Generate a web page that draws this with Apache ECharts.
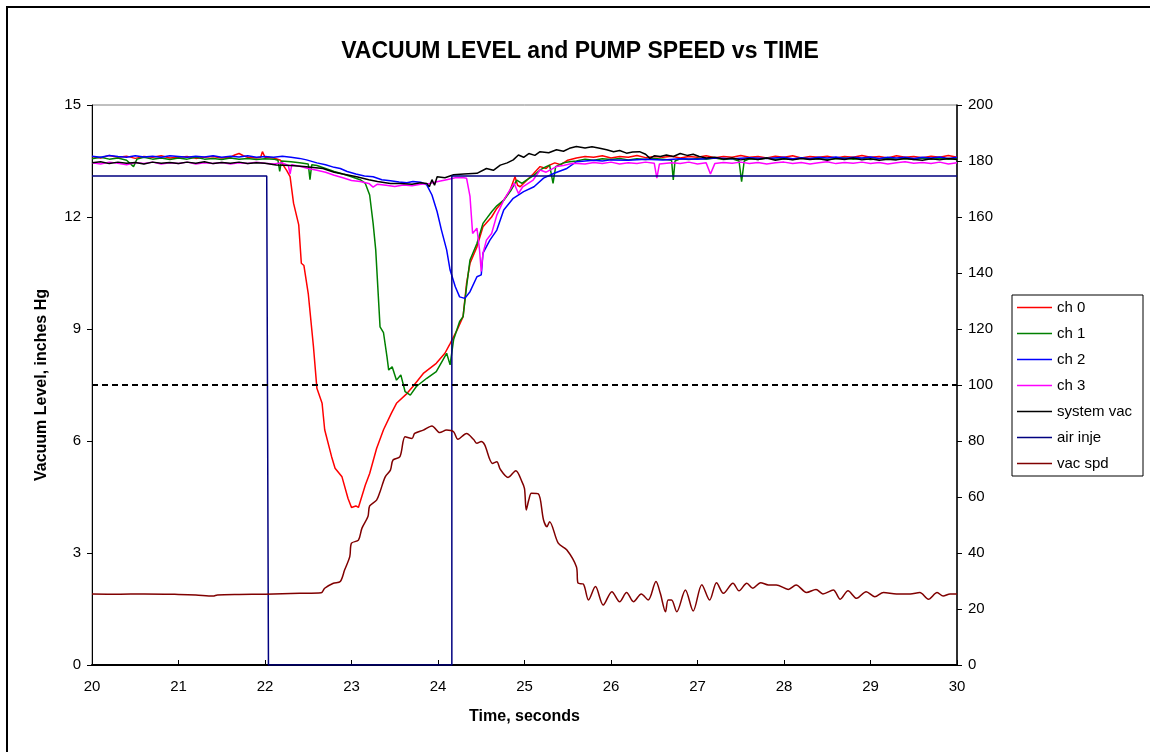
<!DOCTYPE html>
<html>
<head>
<meta charset="utf-8">
<title>Vacuum level and pump speed vs time</title>
<script src="https://cdn.jsdelivr.net/npm/echarts@6/dist/echarts.min.js"></script>
<style>
  html, body { margin: 0; padding: 0; background: #fff; }
  #chart { width: 1150px; height: 752px; }
</style>
</head>
<body>
<div id="chart"></div>
<script>
// [time s, vacuum inHg]
const ch0 = [
  [20.0, 13.62], [20.1, 13.58], [20.2, 13.65], [20.3, 13.6], [20.4, 13.63], [20.5, 13.57], [20.6, 13.62], [20.7, 13.6],
  [20.8, 13.64], [20.9, 13.58], [21.0, 13.6], [21.1, 13.62], [21.2, 13.57], [21.3, 13.6], [21.4, 13.62], [21.5, 13.58],
  [21.6, 13.6], [21.65, 13.66], [21.7, 13.7], [21.75, 13.64], [21.8, 13.6], [21.9, 13.58], [21.95, 13.6], [21.97, 13.75],
  [22.0, 13.6], [22.1, 13.58], [22.18, 13.52], [22.21, 13.39], [22.25, 13.25], [22.29, 13.08], [22.33, 12.37], [22.39, 11.79],
  [22.42, 10.76], [22.45, 10.7], [22.5, 9.95], [22.56, 8.53], [22.6, 7.41], [22.66, 7.01], [22.69, 6.3], [22.77, 5.58],
  [22.81, 5.27], [22.89, 5.04], [22.96, 4.46], [23.0, 4.22], [23.02, 4.19], [23.05, 4.26], [23.08, 4.22], [23.16, 4.82],
  [23.21, 5.13], [23.29, 5.8], [23.37, 6.3], [23.46, 6.74], [23.52, 7.01], [23.64, 7.27], [23.71, 7.46], [23.83, 7.81],
  [23.98, 8.08], [24.08, 8.35], [24.14, 8.61], [24.22, 8.97], [24.29, 9.33], [24.33, 10.22], [24.37, 10.76], [24.45, 11.2],
  [24.52, 11.74], [24.62, 12.0], [24.68, 12.23], [24.76, 12.45], [24.83, 12.7], [24.89, 13.08], [24.92, 12.85], [24.95, 12.81],
  [25.03, 12.99], [25.1, 13.15], [25.18, 13.35], [25.25, 13.3], [25.29, 13.39], [25.35, 13.45], [25.42, 13.4], [25.5, 13.52],
  [25.6, 13.58], [25.7, 13.62], [25.8, 13.6], [25.9, 13.64], [26.0, 13.58], [26.1, 13.62], [26.2, 13.6], [26.3, 13.65],
  [26.4, 13.59], [26.5, 13.62], [26.6, 13.6], [26.7, 13.63], [26.8, 13.58], [26.9, 13.62], [27.0, 13.6], [27.1, 13.64],
  [27.2, 13.59], [27.3, 13.62], [27.4, 13.6], [27.5, 13.65], [27.6, 13.6], [27.7, 13.62], [27.8, 13.58], [27.9, 13.63],
  [28.0, 13.6], [28.1, 13.64], [28.2, 13.58], [28.3, 13.62], [28.4, 13.6], [28.5, 13.63], [28.6, 13.58], [28.7, 13.62],
  [28.8, 13.6], [28.9, 13.65], [29.0, 13.6], [29.1, 13.62], [29.2, 13.58], [29.3, 13.64], [29.4, 13.6], [29.5, 13.62],
  [29.6, 13.59], [29.7, 13.63], [29.8, 13.6], [29.9, 13.65], [30.0, 13.6]
]
const ch1 = [
  [20.0, 13.56], [20.1, 13.6], [20.2, 13.55], [20.3, 13.58], [20.4, 13.52], [20.48, 13.35], [20.52, 13.55], [20.6, 13.6],
  [20.7, 13.55], [20.8, 13.58], [20.9, 13.54], [21.0, 13.58], [21.1, 13.55], [21.2, 13.6], [21.3, 13.55], [21.4, 13.57],
  [21.5, 13.54], [21.6, 13.58], [21.7, 13.55], [21.8, 13.57], [21.9, 13.54], [22.0, 13.56], [22.1, 13.55], [22.15, 13.52],
  [22.17, 13.22], [22.19, 13.5], [22.3, 13.48], [22.4, 13.45], [22.5, 13.42], [22.52, 13.0], [22.54, 13.4], [22.6, 13.38],
  [22.7, 13.3], [22.8, 13.22], [22.9, 13.15], [23.0, 13.08], [23.1, 13.0], [23.16, 12.9], [23.21, 12.59], [23.25, 11.83],
  [23.28, 11.12], [23.3, 11.16], [23.33, 9.06], [23.37, 8.9], [23.41, 8.26], [23.43, 7.9], [23.47, 7.99], [23.52, 7.63],
  [23.57, 7.77], [23.62, 7.32], [23.68, 7.23], [23.75, 7.46], [23.87, 7.68], [23.98, 7.86], [24.1, 8.35], [24.12, 8.4],
  [24.14, 8.04], [24.18, 8.71], [24.25, 9.2], [24.29, 9.33], [24.33, 10.13], [24.37, 10.85], [24.45, 11.29], [24.52, 11.83],
  [24.62, 12.14], [24.68, 12.3], [24.76, 12.45], [24.84, 12.7], [24.91, 12.99], [24.97, 12.9], [25.03, 13.0], [25.1, 13.1],
  [25.18, 13.26], [25.25, 13.35], [25.29, 13.39], [25.33, 12.9], [25.36, 13.35], [25.45, 13.45], [25.52, 13.48], [25.6, 13.5],
  [25.7, 13.55], [25.8, 13.52], [25.9, 13.56], [26.0, 13.54], [26.1, 13.57], [26.2, 13.53], [26.3, 13.56], [26.4, 13.54],
  [26.5, 13.57], [26.6, 13.55], [26.7, 13.52], [26.72, 12.99], [26.74, 13.5], [26.8, 13.56], [26.9, 13.54], [27.0, 13.57],
  [27.1, 13.55], [27.2, 13.58], [27.3, 13.54], [27.4, 13.56], [27.48, 13.5], [27.51, 12.95], [27.54, 13.5], [27.6, 13.56],
  [27.7, 13.54], [27.8, 13.58], [27.9, 13.55], [28.0, 13.57], [28.1, 13.54], [28.2, 13.58], [28.3, 13.55], [28.4, 13.57],
  [28.5, 13.54], [28.6, 13.56], [28.7, 13.58], [28.8, 13.55], [28.9, 13.57], [29.0, 13.54], [29.1, 13.56], [29.2, 13.58],
  [29.3, 13.55], [29.4, 13.57], [29.5, 13.54], [29.6, 13.58], [29.7, 13.55], [29.8, 13.57], [29.9, 13.55], [30.0, 13.56]
]
const ch2 = [
  [20.0, 13.63], [20.1, 13.6], [20.2, 13.65], [20.3, 13.62], [20.4, 13.6], [20.5, 13.64], [20.6, 13.61], [20.7, 13.63],
  [20.8, 13.6], [20.9, 13.64], [21.0, 13.62], [21.1, 13.6], [21.2, 13.63], [21.3, 13.61], [21.4, 13.64], [21.5, 13.6],
  [21.6, 13.63], [21.7, 13.61], [21.8, 13.64], [21.9, 13.6], [22.0, 13.62], [22.1, 13.6], [22.2, 13.63], [22.3, 13.6],
  [22.4, 13.57], [22.48, 13.53], [22.6, 13.45], [22.7, 13.4], [22.8, 13.33], [22.87, 13.3], [22.95, 13.22], [23.05, 13.15],
  [23.15, 13.1], [23.25, 13.08], [23.35, 13.0], [23.45, 12.97], [23.55, 12.94], [23.64, 12.92], [23.71, 12.95], [23.8, 12.93],
  [23.87, 12.86], [23.93, 12.59], [23.99, 12.14], [24.04, 11.65], [24.1, 11.12], [24.14, 10.58], [24.2, 10.13], [24.25, 9.86],
  [24.31, 9.82], [24.37, 10.0], [24.45, 10.4], [24.5, 10.45], [24.52, 11.03], [24.6, 11.38], [24.68, 11.65], [24.76, 12.19],
  [24.87, 12.5], [24.99, 12.68], [25.11, 12.81], [25.22, 13.04], [25.35, 13.18], [25.49, 13.3], [25.6, 13.48], [25.7, 13.5],
  [25.8, 13.52], [25.9, 13.5], [26.0, 13.53], [26.2, 13.52], [26.4, 13.55], [26.6, 13.53], [26.8, 13.56], [27.0, 13.55],
  [27.2, 13.58], [27.4, 13.56], [27.6, 13.59], [27.8, 13.57], [28.0, 13.6], [28.1, 13.56], [28.2, 13.59], [28.3, 13.57],
  [28.4, 13.6], [28.5, 13.58], [28.6, 13.61], [28.7, 13.57], [28.8, 13.6], [28.9, 13.58], [29.0, 13.61], [29.1, 13.57],
  [29.2, 13.6], [29.3, 13.58], [29.4, 13.6], [29.5, 13.57], [29.6, 13.6], [29.7, 13.58], [29.8, 13.61], [29.9, 13.57],
  [30.0, 13.6]
]
const ch3 = [
  [20.0, 13.45], [20.1, 13.42], [20.2, 13.47], [20.3, 13.44], [20.4, 13.4], [20.5, 13.46], [20.6, 13.43], [20.7, 13.47],
  [20.8, 13.42], [20.9, 13.45], [21.0, 13.43], [21.1, 13.47], [21.2, 13.42], [21.3, 13.45], [21.4, 13.43], [21.5, 13.46],
  [21.6, 13.42], [21.7, 13.45], [21.8, 13.43], [21.9, 13.47], [22.0, 13.44], [22.1, 13.42], [22.2, 13.45], [22.27, 13.38],
  [22.29, 13.15], [22.31, 13.4], [22.4, 13.36], [22.5, 13.3], [22.6, 13.25], [22.7, 13.2], [22.8, 13.12], [22.9, 13.05],
  [23.0, 12.98], [23.1, 12.95], [23.2, 12.9], [23.25, 12.8], [23.3, 12.88], [23.4, 12.85], [23.5, 12.82], [23.6, 12.86],
  [23.7, 12.84], [23.8, 12.88], [23.9, 12.9], [24.0, 12.95], [24.1, 13.0], [24.2, 13.05], [24.3, 13.05], [24.33, 13.04],
  [24.37, 12.55], [24.4, 11.56], [24.42, 11.6], [24.45, 11.7], [24.48, 11.12], [24.5, 10.54], [24.52, 11.03], [24.56, 11.38],
  [24.62, 11.56], [24.68, 12.05], [24.76, 12.45], [24.83, 12.72], [24.88, 12.9], [24.93, 12.63], [24.98, 12.81], [25.1, 12.99],
  [25.18, 13.26], [25.25, 13.2], [25.37, 13.35], [25.45, 13.38], [25.56, 13.44], [25.7, 13.42], [25.8, 13.46], [25.9, 13.43],
  [26.0, 13.47], [26.1, 13.42], [26.2, 13.45], [26.3, 13.43], [26.4, 13.47], [26.5, 13.44], [26.53, 13.04], [26.56, 13.42],
  [26.7, 13.45], [26.8, 13.43], [26.9, 13.47], [27.0, 13.42], [27.1, 13.45], [27.15, 13.15], [27.2, 13.43], [27.3, 13.46],
  [27.4, 13.44], [27.5, 13.47], [27.6, 13.43], [27.7, 13.46], [27.8, 13.42], [27.9, 13.45], [28.0, 13.47], [28.1, 13.43],
  [28.2, 13.46], [28.3, 13.42], [28.4, 13.45], [28.5, 13.48], [28.6, 13.43], [28.7, 13.46], [28.8, 13.44], [28.9, 13.47],
  [29.0, 13.43], [29.1, 13.46], [29.2, 13.42], [29.3, 13.45], [29.4, 13.48], [29.5, 13.44], [29.6, 13.46], [29.7, 13.43],
  [29.8, 13.47], [29.9, 13.42], [30.0, 13.45]
]
const systemVac = [
  [20.0, 13.45], [20.1, 13.48], [20.2, 13.43], [20.3, 13.47], [20.4, 13.44], [20.5, 13.46], [20.6, 13.42], [20.7, 13.47],
  [20.8, 13.44], [20.9, 13.46], [21.0, 13.43], [21.1, 13.47], [21.2, 13.44], [21.3, 13.48], [21.4, 13.43], [21.5, 13.46],
  [21.6, 13.44], [21.7, 13.47], [21.8, 13.43], [21.9, 13.45], [22.0, 13.44], [22.13, 13.39], [22.3, 13.38], [22.45, 13.35],
  [22.67, 13.3], [22.8, 13.2], [22.9, 13.15], [23.06, 13.08], [23.2, 13.0], [23.3, 12.95], [23.45, 12.9], [23.56, 12.9],
  [23.7, 12.88], [23.8, 12.92], [23.87, 12.9], [23.9, 12.81], [23.93, 13.0], [23.96, 12.85], [23.99, 13.08], [24.08, 13.05],
  [24.18, 13.13], [24.3, 13.15], [24.45, 13.17], [24.56, 13.3], [24.64, 13.25], [24.72, 13.39], [24.8, 13.45], [24.87, 13.53],
  [24.93, 13.66], [24.99, 13.6], [25.05, 13.7], [25.12, 13.65], [25.18, 13.75], [25.28, 13.72], [25.37, 13.8], [25.45, 13.76],
  [25.52, 13.84], [25.6, 13.89], [25.7, 13.85], [25.78, 13.88], [25.87, 13.84], [25.95, 13.8], [26.03, 13.75], [26.1, 13.78],
  [26.18, 13.71], [26.25, 13.74], [26.33, 13.75], [26.4, 13.68], [26.45, 13.57], [26.5, 13.64], [26.57, 13.62], [26.64, 13.66],
  [26.72, 13.62], [26.8, 13.7], [26.88, 13.65], [26.95, 13.68], [27.02, 13.62], [27.1, 13.58], [27.2, 13.6], [27.3, 13.55],
  [27.4, 13.58], [27.5, 13.53], [27.6, 13.57], [27.7, 13.54], [27.8, 13.58], [27.9, 13.52], [28.0, 13.56], [28.1, 13.53],
  [28.2, 13.57], [28.3, 13.54], [28.4, 13.56], [28.5, 13.52], [28.6, 13.57], [28.7, 13.54], [28.8, 13.58], [28.9, 13.53],
  [29.0, 13.56], [29.1, 13.52], [29.2, 13.55], [29.3, 13.53], [29.4, 13.57], [29.5, 13.54], [29.6, 13.52], [29.7, 13.56],
  [29.8, 13.53], [29.9, 13.57], [30.0, 13.54]
]
const airInje = [
  [20.0, 13.1], [22.02, 13.1], [22.04, 0], [24.16, 0], [24.16, 13.1], [30.0, 13.1]
]
// [time s, pump speed] on the right axis
const vacSpd = [
  [20.0, 25.4], [20.3, 25.3], [20.6, 25.4], [21.0, 25.2], [21.2, 25.0], [21.4, 24.6], [21.45, 25.0], [21.7, 25.2],
  [22.0, 25.3], [22.4, 25.6], [22.65, 25.8], [22.69, 27.4], [22.79, 29.2], [22.87, 29.8], [22.92, 33.9], [22.98, 38.7],
  [23.0, 43.5], [23.08, 44.6], [23.12, 48.8], [23.19, 53], [23.21, 56.8], [23.29, 58.9], [23.33, 61.9], [23.39, 67.2],
  [23.45, 69.6], [23.48, 73.2], [23.56, 74.4], [23.62, 81.5], [23.7, 80.9], [23.73, 82.7], [23.83, 83.9], [23.93, 85.4],
  [24.02, 83], [24.1, 83.9], [24.18, 83.3], [24.23, 80.6], [24.33, 82.7], [24.41, 80.6], [24.45, 79.2], [24.5, 79.8],
  [24.54, 78.6], [24.63, 72], [24.68, 72.6], [24.72, 69.9], [24.81, 67], [24.9, 69.4], [24.97, 65.5], [25.0, 63],
  [25.02, 55.4], [25.05, 59], [25.08, 61.3], [25.16, 61.1], [25.22, 51.8], [25.26, 49.4], [25.29, 51.2], [25.39, 43.5],
  [25.49, 41.1], [25.6, 35.1], [25.62, 29.2], [25.68, 28.9], [25.74, 23.2], [25.82, 28], [25.91, 21.4], [26.01, 26.2],
  [26.1, 22.6], [26.18, 25.9], [26.26, 22.6], [26.35, 25.4], [26.43, 23.2], [26.52, 29.8], [26.57, 25.6], [26.63, 19],
  [26.66, 23.2], [26.7, 23.2], [26.76, 19], [26.86, 26.8], [26.95, 19.3], [27.05, 28.7], [27.14, 23.2], [27.22, 29.4],
  [27.3, 25.6], [27.41, 29.2], [27.48, 26.5], [27.57, 29.2], [27.64, 27.4], [27.73, 29.4], [27.82, 28.6], [27.91, 28.6],
  [28.05, 27], [28.14, 28.6], [28.26, 25.9], [28.37, 27], [28.45, 25.4], [28.57, 26.8], [28.65, 23.5], [28.74, 26.5],
  [28.84, 23.8], [28.95, 26.2], [29.05, 24.4], [29.15, 25.9], [29.3, 25.4], [29.46, 25.4], [29.57, 25.9], [29.67, 23.5],
  [29.77, 25.9], [29.84, 24.6], [29.92, 25.4], [30.0, 25.4]
]
const limitLine = [[20, 100], [30, 100]]

const seriesNames = ['ch 0', 'ch 1', 'ch 2', 'ch 3', 'system vac', 'air inje', 'vac spd']
const seriesColors = ['#ff0000', '#008000', '#0000ff', '#ff00ff', '#000000', '#000080', '#800000']
const seriesData = [ch0, ch1, ch2, ch3, systemVac, airInje, vacSpd]

const font = "'Liberation Sans', Arial, sans-serif"
// plain short line for legend keys (extra moveTo keeps the box height)
const legendLine = 'path://M0,0 M0,14 M0,6.3 L35,6.3 L35,7.7 L0,7.7 Z'

const chart = echarts.init(document.getElementById('chart'))

const series = seriesNames.map((name, i) => ({
  name,
  type: 'line',
  data: seriesData[i],
  yAxisIndex: name === 'vac spd' ? 1 : 0,
  symbol: 'none',
  smooth: name === 'vac spd' ? 0.3 : false,
  lineStyle: { width: 1.5, color: seriesColors[i] },
  itemStyle: { color: seriesColors[i] },
  animation: false
}))
series.push({
  name: 'limit',
  type: 'line',
  data: limitLine,
  yAxisIndex: 1,
  symbol: 'none',
  lineStyle: { width: 2, color: '#000', type: [6, 4] },
  animation: false
})

const option = {
  backgroundColor: '#fff',
  animation: false,
  title: {
    text: 'VACUUM LEVEL and PUMP SPEED vs TIME',
    left: 575,
    textAlign: 'center',
    top: 35,
    textStyle: { fontFamily: font, fontSize: 23, fontWeight: 'bold', color: '#000' }
  },
  legend: {
    data: seriesNames,
    orient: 'vertical',
    left: 1012,
    top: 295,
    padding: [5, 11, 5, 5],
    borderColor: '#000',
    borderWidth: 1,
    icon: legendLine,
    itemWidth: 35,
    itemHeight: 14,
    itemGap: 11,
    textStyle: { fontFamily: font, fontSize: 15, lineHeight: 14, color: '#000' }
  },
  grid: {
    left: 92,
    right: 193,
    top: 105,
    bottom: 87,
    show: true,
    borderColor: '#808080',
    borderWidth: 1
  },
  xAxis: {
    type: 'value',
    min: 20,
    max: 30,
    interval: 1,
    name: 'Time, seconds',
    nameLocation: 'middle',
    nameGap: 44,
    nameTextStyle: { fontFamily: font, fontSize: 16, fontWeight: 'bold', color: '#000' },
    axisLine: { lineStyle: { color: '#000', width: 2 } },
    axisTick: { length: 5, inside: true, lineStyle: { color: '#000' } },
    axisLabel: { fontFamily: font, fontSize: 15, color: '#000', margin: 14 },
    splitLine: { show: false }
  },
  yAxis: [{
    type: 'value',
    min: 0,
    max: 15,
    interval: 3,
    name: 'Vacuum Level, inches Hg',
    nameLocation: 'middle',
    nameGap: 42,
    nameTextStyle: { fontFamily: font, fontSize: 16, fontWeight: 'bold', color: '#000' },
    axisLine: { show: true, lineStyle: { color: '#000', width: 1 } },
    axisTick: { length: 5, lineStyle: { color: '#000' } },
    axisLabel: { fontFamily: font, fontSize: 15, color: '#000', margin: 11 },
    splitLine: { show: false }
  }, {
    type: 'value',
    position: 'right',
    min: 0,
    max: 200,
    interval: 20,
    axisLine: { show: true, lineStyle: { color: '#000', width: 1.5 } },
    axisTick: { length: 5, lineStyle: { color: '#000' } },
    axisLabel: { fontFamily: font, fontSize: 15, color: '#000', margin: 11 },
    splitLine: { show: false }
  }],
  graphic: [{
    type: 'rect',
    shape: { x: 7, y: 7, width: 1170, height: 770 },
    style: { fill: 'none', stroke: '#000', lineWidth: 2 },
    silent: true
  }],
  series
}

chart.setOption(option)
</script>
</body>
</html>
